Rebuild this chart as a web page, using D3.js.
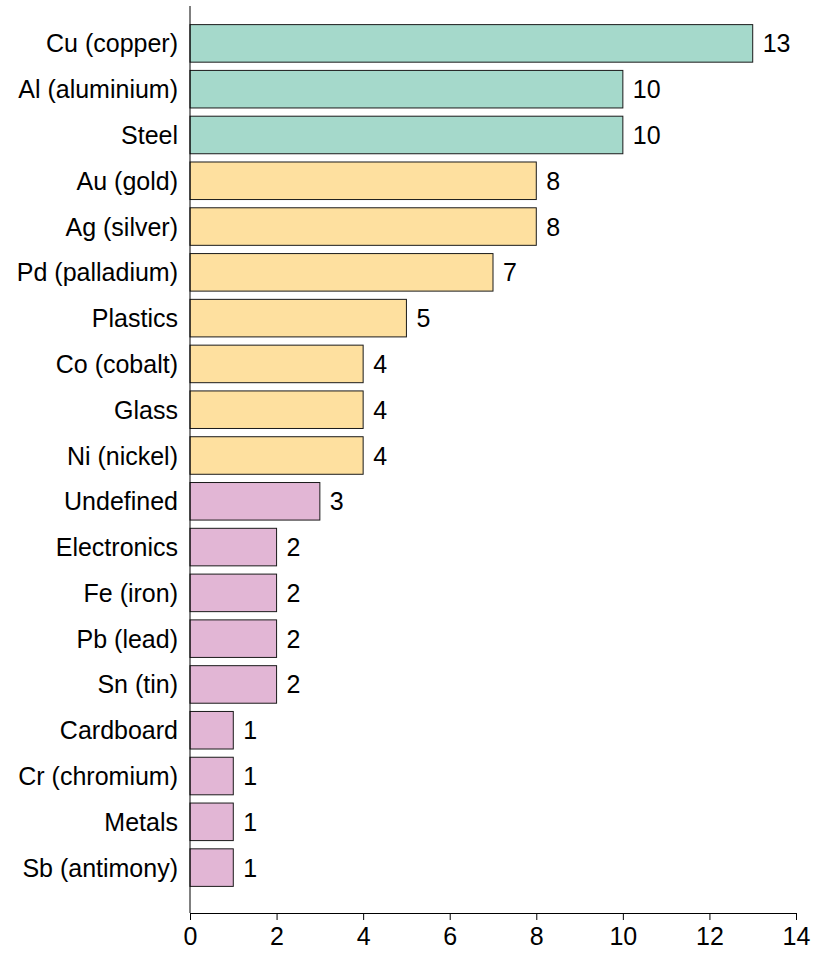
<!DOCTYPE html>
<html>
<head>
<meta charset="utf-8">
<script src="https://cdn.jsdelivr.net/npm/d3@7"></script>
<style>
  body { margin: 0; background: #fff; }
  svg text { font-family: "Liberation Sans", Arial, sans-serif; fill: #000; }
</style>
</head>
<body>
<div id="chart"></div>
<script>
// categories, top to bottom
const materials = [
  'Cu (copper)', 'Al (aluminium)', 'Steel', 'Au (gold)', 'Ag (silver)',
  'Pd (palladium)', 'Plastics', 'Co (cobalt)', 'Glass', 'Ni (nickel)',
  'Undefined', 'Electronics', 'Fe (iron)', 'Pb (lead)', 'Sn (tin)',
  'Cardboard', 'Cr (chromium)', 'Metals', 'Sb (antimony)'
];
const counts = [13, 10, 10, 8, 8, 7, 5, 4, 4, 4, 3, 2, 2, 2, 2, 1, 1, 1, 1];
// colour group for each bar
const groups = [
  'high', 'high', 'high',
  'mid', 'mid', 'mid', 'mid', 'mid', 'mid', 'mid',
  'low', 'low', 'low', 'low', 'low', 'low', 'low', 'low', 'low'
];
const groupNames = ['high', 'mid', 'low'];
const groupColors = ['#a5d9cb', '#fee09f', '#e2b6d5'];
const xTicks = [0, 2, 4, 6, 8, 10, 12, 14];

const W = 813, H = 953;
const x0 = 190, x1 = 796, axisTop = 6, axisBottom = 913;
const fontSize = 25;

const rows = materials.map((m, i) => ({name: m, value: counts[i], group: groups[i]}));

const svg = d3.select('#chart').append('svg')
  .attr('width', W).attr('height', H);

const x = d3.scaleLinear().domain([0, 14]).range([x0, x1]);
const y = d3.scaleBand().domain(materials).range([20.5, 890.5])
  .paddingInner(0.18).paddingOuter(0.09);
const color = d3.scaleOrdinal().domain(groupNames).range(groupColors);

// bars
svg.append('g').selectAll('rect').data(rows).join('rect')
  .attr('x', x(0))
  .attr('y', d => y(d.name))
  .attr('width', d => x(d.value) - x(0))
  .attr('height', y.bandwidth())
  .attr('fill', d => color(d.group))
  .attr('stroke', '#1a1a1a')
  .attr('stroke-width', 1);

// value labels
svg.append('g').selectAll('text').data(rows).join('text')
  .attr('x', d => x(d.value) + 10)
  .attr('y', d => y(d.name) + y.bandwidth() / 2)
  .attr('dy', '0.36em')
  .style('font-size', fontSize + 'px')
  .text(d => d.value);

// category axis
const yAxis = svg.append('g')
  .attr('transform', `translate(${x0},0)`)
  .call(d3.axisLeft(y).tickSize(0).tickPadding(12));
yAxis.select('.domain').remove();
yAxis.selectAll('text').style('font-size', fontSize + 'px').attr('dy', '0.36em');
svg.append('line')
  .attr('x1', x0).attr('x2', x0)
  .attr('y1', axisTop).attr('y2', axisBottom)
  .attr('stroke', '#000').attr('stroke-width', 1);

// value axis
const xAxis = svg.append('g')
  .attr('transform', `translate(0,${axisBottom})`)
  .call(d3.axisBottom(x).tickValues(xTicks).tickSizeOuter(0).tickSize(7).tickPadding(7));
xAxis.select('.domain').attr('stroke-width', 1);
xAxis.selectAll('text').style('font-size', fontSize + 'px');
</script>
</body>
</html>
